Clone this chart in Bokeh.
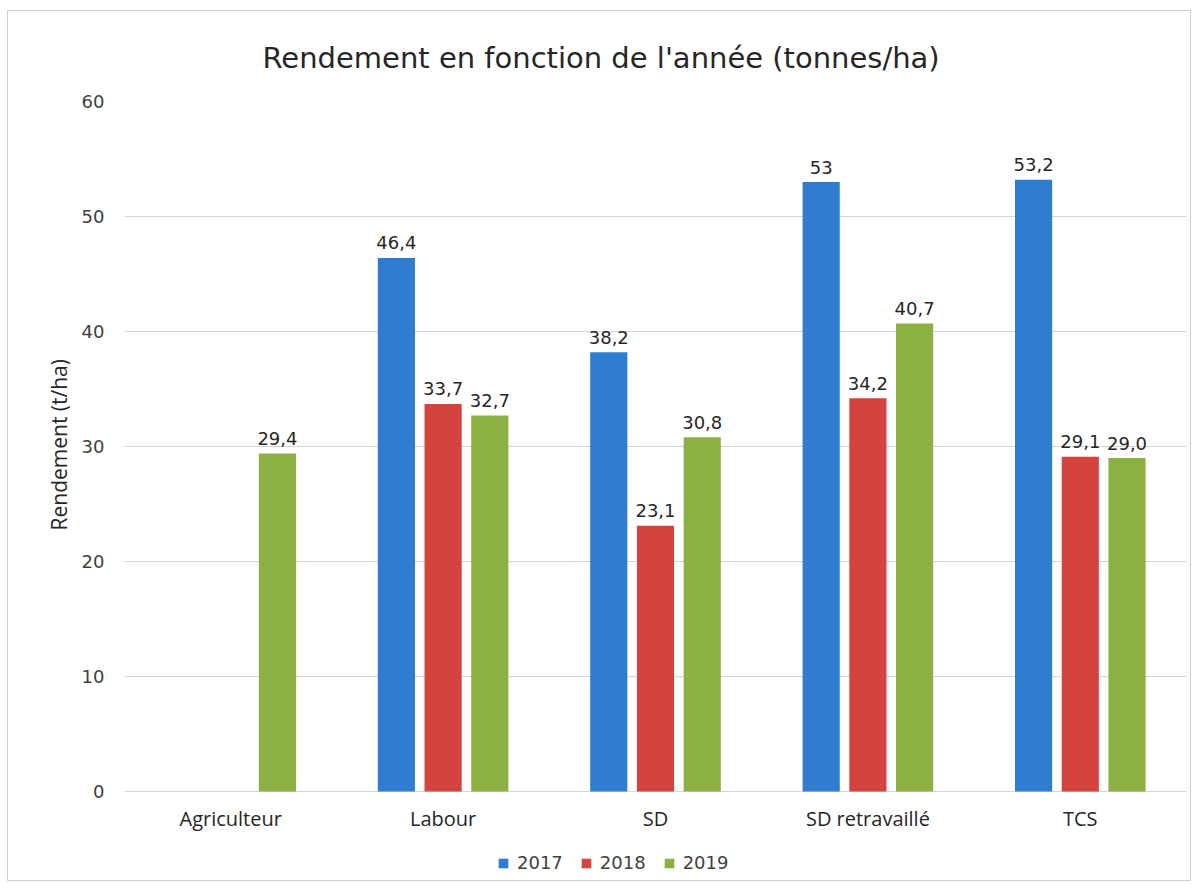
from bokeh.plotting import figure
from bokeh.models import ColumnDataSource, FactorRange, Range1d, FixedTicker, Legend, LegendItem, Title
from bokeh.core.properties import value
from bokeh.transform import dodge
from bokeh.embed import file_html
from bokeh.resources import INLINE

categories = ["Agriculteur", "Labour", "SD", "SD retravaillé", "TCS"]
years = ["2017", "2018", "2019"]
y2017 = [None, 46.4, 38.2, 53.0, 53.2]
y2018 = [None, 33.7, 23.1, 34.2, 29.1]
y2019 = [29.4, 32.7, 30.8, 40.7, 29.0]
lab2017 = [None, "46,4", "38,2", "53", "53,2"]
lab2018 = [None, "33,7", "23,1", "34,2", "29,1"]
lab2019 = ["29,4", "32,7", "30,8", "40,7", "29,0"]
yticks = [0, 10, 20, 30, 40, 50, 60]
colors = ["#2E7DD1", "#D5433F", "#8DB043"]
offsets = [-0.22, 0.0, 0.22]

# frame extends below the zero line to host category labels and legend
p = figure(x_range=FactorRange(*categories, range_padding=0), y_range=Range1d(-89 / 11.5, 60),
           frame_width=1062, frame_height=779, output_backend="svg", toolbar_location=None,
           min_border_left=116, min_border_right=4, min_border_top=90, min_border_bottom=0)
p.margin = (11, 0, 0, 8)
p.styles = {"outline": "1px solid #cfcfcf"}

p.title.text = "Rendement en fonction de l'année (tonnes/ha)"
p.title.text_font = "DejaVu Sans"
p.title.text_font_size = "29px"
p.title.text_font_style = "normal"
p.title.text_color = "#262626"
p.title.align = "left"
p.title.offset = 138
p.title.standoff = 54

p.outline_line_color = None
p.background_fill_color = "white"
p.border_fill_color = "white"

items = []
for vals, labs, col, off, yr in zip([y2017, y2018, y2019], [lab2017, lab2018, lab2019], colors, offsets, years):
    xs = [c for c, v in zip(categories, vals) if v is not None]
    ys = [v for v in vals if v is not None]
    ls = [l for l in labs if l is not None]
    src = ColumnDataSource(dict(x=xs, top=ys, lab=ls))
    r = p.vbar(x=dodge("x", off, range=p.x_range), top="top", width=0.175, source=src,
               fill_color=col, line_color=None)
    p.text(x=dodge("x", off, range=p.x_range), y="top", text="lab", source=src,
           text_align="center", text_baseline="alphabetic", y_offset=-15,
           text_font=value("DejaVu Sans"), text_font_size="18px", text_color="#262626")
    items.append(LegendItem(label=yr, renderers=[r]))

# category labels under the zero line
cat_src = ColumnDataSource(dict(x=categories, y=[0] * len(categories)))
p.text(x="x", y="y", text="x", source=cat_src, text_align="center", text_baseline="alphabetic",
       y_offset=27, text_font=value("Open Sans"), text_font_size="20px", text_color="#262626")

legend = Legend(items=items, orientation="horizontal", location=(373, 7),
                label_text_font="DejaVu Sans", label_text_font_size="18px", label_text_color="#404040",
                glyph_width=12, glyph_height=12, spacing=17, label_standoff=8,
                border_line_color=None, background_fill_alpha=0, padding=0, margin=0)
p.add_layout(legend, "center")

p.xaxis.visible = False

p.yaxis.ticker = FixedTicker(ticks=yticks)
p.yaxis.axis_line_color = None
p.yaxis.major_tick_line_color = None
p.yaxis.minor_tick_line_color = None
p.yaxis.major_label_text_font = "DejaVu Sans"
p.yaxis.major_label_text_font_size = "18px"
p.yaxis.major_label_text_color = "#404040"
p.yaxis.major_label_standoff = 14

ylab = Title(text="Rendement (t/ha)", align="left", offset=350, standoff=12,
             text_font="Open Sans", text_font_size="21px", text_font_style="normal",
             text_color="#262626")
p.add_layout(ylab, "left")

p.xgrid.grid_line_color = None
p.ygrid.grid_line_color = "#d6d6d6"

open("out.html", "w").write(file_html(p, INLINE))
